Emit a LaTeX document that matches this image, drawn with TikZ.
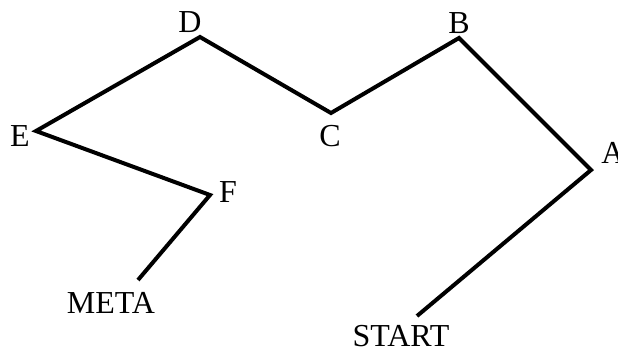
\documentclass[tikz,border=0pt]{standalone}
\usepackage{fontspec}
\setmainfont{Liberation Serif}
\begin{document}
\begin{tikzpicture}[x=1pt,y=-1pt,
  path/.style={line width=4pt,line join=miter,line cap=butt},
  lbl/.style={inner sep=0pt,font=\fontsize{32}{32}\selectfont,anchor=center}]
\useasboundingbox (0,0) rectangle (618,346);
\coordinate (vS) at (417,316);
\coordinate (vA) at (591,170);
\coordinate (vB) at (459,38);
\coordinate (vC) at (331,113);
\coordinate (vD) at (200,37);
\coordinate (vE) at (36,131);
\coordinate (vF) at (210,195);
\coordinate (vM) at (138,280);
\draw[path] (vS) -- (vA) -- (vB) -- (vC) -- (vD) -- (vE) -- (vF) -- (vM);
\node[lbl] (lD) at (190,22) {D};
\node[lbl] (lE) at (20,136) {E};
\node[lbl] (lC) at (330,136) {C};
\node[lbl] (lB) at (459,23) {B};
\node[lbl] (lA) at (613,153) {A};
\node[lbl] (lF) at (228,192) {F};
\node[lbl] (lM) at (111,303) {META};
\node[lbl] (lS) at (401,336) {START};
\end{tikzpicture}
\end{document}
